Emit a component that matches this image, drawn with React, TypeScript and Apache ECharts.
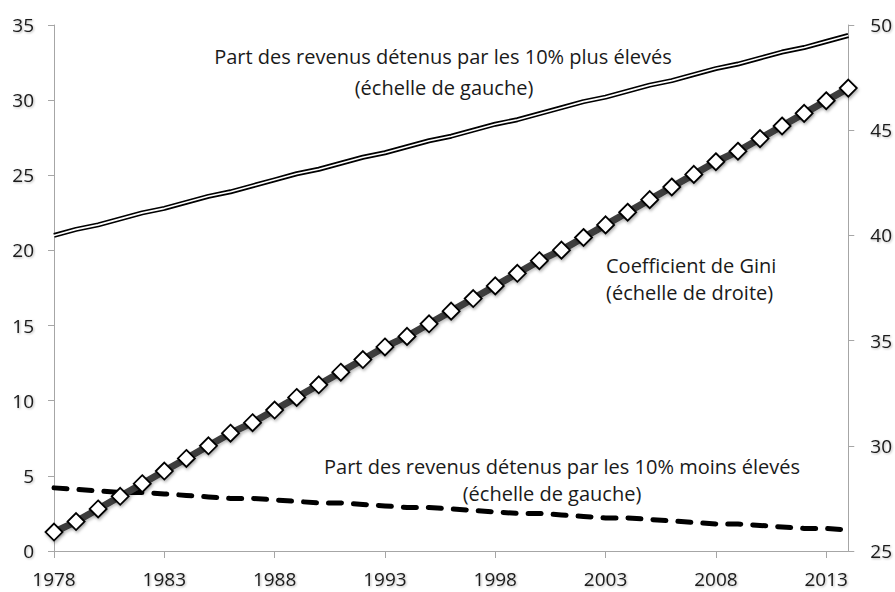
import React, { useEffect, useRef } from "react";
import * as echarts from "echarts";

const years: string[] = [];
for (let y = 1978; y <= 2014; y++) years.push(String(y));

const top10Share = [21.0, 21.4, 21.7, 22.1, 22.5, 22.8, 23.2, 23.6, 23.9, 24.3, 24.7, 25.1, 25.4, 25.8, 26.2, 26.5, 26.9, 27.3, 27.6, 28.0, 28.4, 28.7, 29.1, 29.5, 29.9, 30.2, 30.6, 31.0, 31.3, 31.7, 32.1, 32.4, 32.8, 33.2, 33.5, 33.9, 34.3];
const gini = [25.9, 26.4, 27.0, 27.6, 28.2, 28.8, 29.4, 30.0, 30.6, 31.1, 31.7, 32.3, 32.9, 33.5, 34.1, 34.7, 35.2, 35.8, 36.4, 37.0, 37.6, 38.2, 38.8, 39.3, 39.9, 40.5, 41.1, 41.7, 42.3, 42.9, 43.5, 44.0, 44.6, 45.2, 45.8, 46.4, 47.0];
const bottom10Share = [4.2, 4.1, 4.0, 3.9, 3.9, 3.8, 3.7, 3.6, 3.5, 3.5, 3.4, 3.3, 3.2, 3.2, 3.1, 3.0, 2.9, 2.9, 2.8, 2.7, 2.6, 2.5, 2.5, 2.4, 2.3, 2.2, 2.2, 2.1, 2.0, 1.9, 1.8, 1.8, 1.7, 1.6, 1.5, 1.5, 1.4];

const FONT = "'Open Sans', 'DejaVu Sans', sans-serif";
const TXT = "#1a1a1a";
const shadow = {
  textShadowColor: "rgba(0,0,0,0.28)",
  textShadowBlur: 2,
  textShadowOffsetX: 1,
  textShadowOffsetY: 1,
};

export default function App() {
  const ref = useRef<HTMLDivElement>(null);
  useEffect(() => {
    if (!ref.current) return;
    const chart = echarts.init(ref.current, undefined, { renderer: "svg" });
    const axisLabel = { color: TXT, fontSize: 19, fontFamily: FONT, ...shadow };
    const annot = (x: number, y: number, text: string, align: string) => ({
      type: "text",
      x,
      y,
      style: {
        text,
        fill: TXT,
        font: `20px ${FONT}`,
        textAlign: align,
        textVerticalAlign: "middle",
        shadowColor: "rgba(0,0,0,0.28)",
        shadowBlur: 2,
        shadowOffsetX: 1,
        shadowOffsetY: 1,
      },
    });
    chart.setOption({
      animation: false,
      grid: { left: 54, right: 46, top: 25, bottom: 41, containLabel: false },
      xAxis: {
        type: "category",
        data: years,
        boundaryGap: false,
        axisLine: { lineStyle: { color: "#a6a6a6", width: 1 } },
        axisTick: { interval: 4, length: 7, lineStyle: { color: "#a6a6a6" } },
        axisLabel: { ...axisLabel, interval: 4, margin: 18 },
        splitLine: { show: false },
      },
      yAxis: [
        {
          type: "value",
          min: 0,
          max: 35,
          interval: 5,
          position: "left",
          axisLine: { show: true, lineStyle: { color: "#a6a6a6" } },
          axisTick: { show: true, length: 6, lineStyle: { color: "#a6a6a6" } },
          axisLabel: { ...axisLabel, margin: 20 },
          splitLine: { show: false },
        },
        {
          type: "value",
          min: 25,
          max: 50,
          interval: 5,
          position: "right",
          axisLine: { show: true, lineStyle: { color: "#a6a6a6" } },
          axisTick: { show: true, length: 6, lineStyle: { color: "#a6a6a6" } },
          axisLabel: { ...axisLabel, margin: 22 },
          splitLine: { show: false },
        },
      ],
      series: [
        {
          name: "top10-outer",
          type: "line",
          yAxisIndex: 0,
          data: top10Share,
          symbol: "none",
          lineStyle: { color: "#000", width: 5 },
          z: 2,
        },
        {
          name: "top10-inner",
          type: "line",
          yAxisIndex: 0,
          data: top10Share,
          symbol: "none",
          lineStyle: { color: "#fff", width: 1.6 },
          z: 3,
        },
        {
          name: "bottom10",
          type: "line",
          yAxisIndex: 0,
          data: bottom10Share,
          symbol: "none",
          lineStyle: { color: "#000", width: 5, type: [13, 12], cap: "round" },
          z: 2,
        },
        {
          name: "gini",
          type: "line",
          yAxisIndex: 1,
          data: gini,
          symbol: "diamond",
          symbolSize: 17,
          showSymbol: true,
          showAllSymbol: true,
          lineStyle: {
            color: "#3c3c3c",
            width: 7,
            shadowColor: "rgba(0,0,0,0.25)",
            shadowBlur: 3,
            shadowOffsetX: 1,
            shadowOffsetY: 2,
          },
          itemStyle: {
            color: "#fff",
            borderColor: "#000",
            borderWidth: 1.8,
            shadowColor: "rgba(0,0,0,0.3)",
            shadowBlur: 3,
            shadowOffsetX: 1,
            shadowOffsetY: 2,
          },
          z: 4,
        },
      ],
      graphic: [
        annot(443, 56, "Part des revenus détenus par les 10% plus élevés", "center"),
        annot(444, 87, "(échelle de gauche)", "center"),
        annot(606, 265, "Coefficient de Gini", "left"),
        annot(606, 292, "(échelle de droite)", "left"),
        annot(562, 466, "Part des revenus détenus par les 10% moins élevés", "center"),
        annot(552, 493, "(échelle de gauche)", "center"),
      ],
    });
    return () => chart.dispose();
  }, []);
  return <div ref={ref} style={{ width: 895, height: 592, position: "absolute", left: 0, top: 0 }} />;
}
